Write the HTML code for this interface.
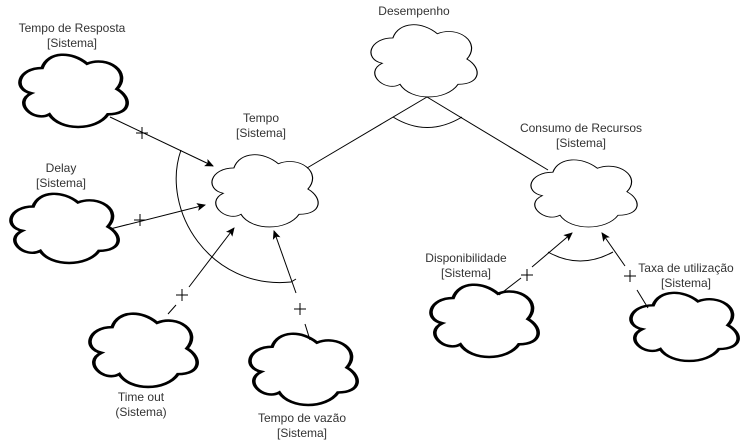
<!DOCTYPE html>
<html><head><meta charset="utf-8"><style>
body{margin:0;background:#fff;}
svg{display:block;}
text{font-family:"Liberation Sans",Arial,sans-serif;font-size:12px;fill:#333;text-anchor:middle;}
</style></head><body>
<svg width="743" height="441" viewBox="0 0 743 441" xmlns="http://www.w3.org/2000/svg">
<defs>
<path id="c" d="M25,25 C5,25 0,50 16,55 C0,66 18,90 31,80 C40,100 70,100 80,80 C100,80 100,60 87.5,50 C100,30 80,10 62.5,20 C50,5 30,5 25,25 Z"/>
<marker id="a" markerWidth="10" markerHeight="10" refX="8" refY="5" orient="auto" markerUnits="userSpaceOnUse"><path d="M0,1 L9,5 L0,9 L2,5 Z" fill="#000"/></marker>
</defs>
<g fill="#fff" stroke="#000">
<use href="#c" transform="translate(17,57) scale(1.196,0.843) translate(-4,-12)" stroke-width="3" vector-effect="non-scaling-stroke"/>
<use href="#c" transform="translate(8,196) scale(1.196,0.807) translate(-4,-12)" stroke-width="3" vector-effect="non-scaling-stroke"/>
<use href="#c" transform="translate(87,316) scale(1.196,0.855) translate(-4,-12)" stroke-width="3" vector-effect="non-scaling-stroke"/>
<use href="#c" transform="translate(247,336) scale(1.196,0.831) translate(-4,-12)" stroke-width="3" vector-effect="non-scaling-stroke"/>
<use href="#c" transform="translate(428,287) scale(1.196,0.843) translate(-4,-12)" stroke-width="3" vector-effect="non-scaling-stroke"/>
<use href="#c" transform="translate(628,295) scale(1.196,0.795) translate(-4,-12)" stroke-width="3" vector-effect="non-scaling-stroke"/>
<use href="#c" transform="translate(209,157) scale(1.185,0.843) translate(-4,-12)" stroke-width="1" vector-effect="non-scaling-stroke"/>
<use href="#c" transform="translate(368,27) scale(1.185,0.843) translate(-4,-12)" stroke-width="1" vector-effect="non-scaling-stroke"/>
<use href="#c" transform="translate(528,162) scale(1.185,0.783) translate(-4,-12)" stroke-width="1" vector-effect="non-scaling-stroke"/>
</g>
<g stroke="#000" stroke-width="1" fill="none">
<line x1="427" y1="97" x2="307" y2="168"/>
<line x1="427" y1="97" x2="548" y2="170"/>
<path d="M393,117 Q427,138 462,117"/>
<line x1="110" y1="117" x2="213" y2="166" marker-end="url(#a)"/>
<line x1="110" y1="229" x2="205" y2="205" marker-end="url(#a)"/>
<line x1="168" y1="314" x2="176" y2="305"/>
<line x1="189" y1="287" x2="234" y2="228" marker-end="url(#a)"/>
<line x1="310" y1="340" x2="305" y2="324"/>
<line x1="296" y1="293" x2="274" y2="231" marker-end="url(#a)"/>
<path d="M181,150 C160,210 210,290 291,282 L296,279"/>
<line x1="499" y1="295" x2="521" y2="278"/>
<line x1="532" y1="267" x2="572" y2="233" marker-end="url(#a)"/>
<line x1="648" y1="308" x2="637" y2="290"/>
<line x1="625" y1="266" x2="602" y2="233" marker-end="url(#a)"/>
<path d="M548,252 Q580,270 613,252"/>
<path d="M136,133 h12 M142,127 v12"/>
<path d="M134,220 h12 M140,214 v12"/>
<path d="M176,295 h12 M182,289 v12"/>
<path d="M294,309 h12 M300,303 v12"/>
<path d="M521,275 h12 M527,269 v12"/>
<path d="M624,276 h12 M630,270 v12"/>
</g>
<text x="72" y="32">Tempo de Resposta</text><text x="72" y="47">[Sistema]</text>
<text x="61" y="172">Delay</text><text x="61" y="187">[Sistema]</text>
<text x="261" y="122">Tempo</text><text x="261" y="137">[Sistema]</text>
<text x="414" y="15">Desempenho</text>
<text x="581" y="132">Consumo de Recursos</text><text x="581" y="147">[Sistema]</text>
<text x="466" y="262">Disponibilidade</text><text x="466" y="277">[Sistema]</text>
<text x="686" y="272">Taxa de utilização</text><text x="686" y="287">[Sistema]</text>
<text x="141" y="401">Time out</text><text x="141" y="416">(Sistema)</text>
<text x="302" y="422">Tempo de vazão</text><text x="302" y="437">[Sistema]</text>
</svg>
</body></html>
